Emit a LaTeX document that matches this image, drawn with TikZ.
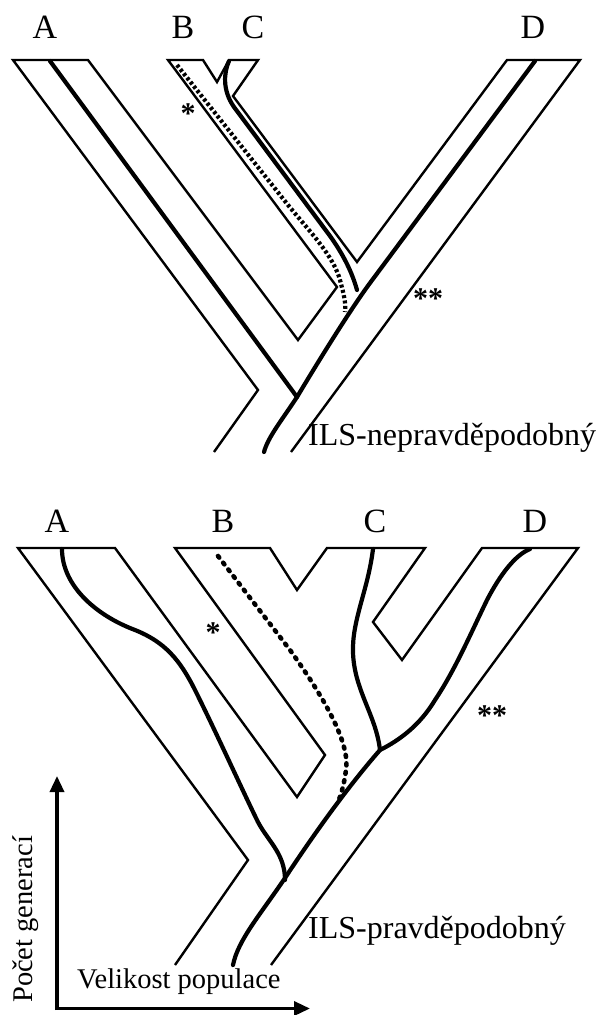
\documentclass[tikz,border=0pt]{standalone}
\usepackage{fontspec}
\setmainfont{Liberation Serif}
\usetikzlibrary{arrows.meta}
\begin{document}
\begin{tikzpicture}[x=1pt,y=-1pt,
  tube/.style={line width=2.4pt, line join=miter},
  lin/.style={line width=4.2pt, line cap=round},
  dashlin/.style={line width=4.2pt, dash pattern=on 3pt off 2.4pt},
  dotlin/.style={line width=4.6pt, line cap=round, dash pattern=on 2pt off 6.5pt},
  lab/.style={font=\fontsize{34}{34}\selectfont, anchor=base, inner sep=0},
  ils/.style={font=\fontsize{32}{32}\selectfont, anchor=base west, inner sep=0},
  axlab/.style={font=\fontsize{28.5}{28.5}\selectfont, inner sep=0},
  astx/.style={font=\fontsize{30}{30}\selectfont\bfseries, inner sep=0, anchor=center},
  axis/.style={line width=3.4pt, -{Triangle[length=16pt,width=14pt]}}
]
\useasboundingbox (0,0) rectangle (600,1015);

% ---------------- top panel ----------------
\node[lab] (tA) at (45,38) {A};
\node[lab] (tB) at (183,38) {B};
\node[lab] (tC) at (253,38) {C};
\node[lab] (tD) at (533,38) {D};

\draw[tube] (214,452) -- (258,390) -- (13,60) -- (88,60) -- (298,340) -- (337,287)
  -- (168,60) -- (203,60) -- (217,82) -- (229,60) -- (258,60) -- (233,96)
  -- (357,262) -- (507,60) -- (580,60) -- (291,452);

\draw[lin] (50,61) -- (297,397);
\draw[lin] (535,61) -- (370,283) .. controls (350,310) and (318,362) .. (297,397)
  .. controls (282,420) and (268,437) .. (264,452);
\draw[lin] (229,61) .. controls (224,72) and (222,90) .. (234,107) -- (330,236)
  .. controls (343,254) and (352,272) .. (357,290);
\draw[dashlin] (177,65) -- (288,205) .. controls (310,232) and (333,255) .. (340,280)
  .. controls (344,295) and (346,303) .. (345,312);

\node[astx] (ts1) at (188,114) {*};
\node[astx] (ts2) at (428,299) {**};
\node[ils] (tils) at (308,445) {ILS-nepravděpodobný};

% ---------------- bottom panel ----------------
\node[lab] (bA) at (57,532) {A};
\node[lab] (bB) at (223,532) {B};
\node[lab] (bC) at (375,532) {C};
\node[lab] (bD) at (535,532) {D};

\draw[tube] (175,965) -- (248,860) -- (18,548) -- (115,548) -- (297,797) -- (325,755)
  -- (175,548) -- (270,548) -- (297,590) -- (327,548) -- (425,548) -- (373,622)
  -- (402,660) -- (482,548) -- (578,548) -- (271,965);

\draw[lin] (62,549) .. controls (62,585) and (95,615) .. (135,630)
  .. controls (165,642) and (180,660) .. (195,690)
  .. controls (215,730) and (240,785) .. (256,818)
  .. controls (266,840) and (285,852) .. (285,880);
\draw[lin] (530,549) .. controls (515,555) and (500,575) .. (487,600)
  .. controls (470,635) and (455,670) .. (435,700)
  .. controls (420,725) and (400,740) .. (380,750)
  .. controls (345,790) and (310,840) .. (285,878)
  .. controls (260,915) and (238,940) .. (233,965);
\draw[lin] (373,549) .. controls (368,590) and (352,620) .. (353,652)
  .. controls (354,690) and (376,715) .. (380,750);
\draw[dotlin] (218,556) -- (290,650) .. controls (328,703) and (350,745) .. (346,770)
  .. controls (344,785) and (341,795) .. (338,802);

\node[astx] (bs1) at (213,633) {*};
\node[astx] (bs2) at (492,716) {**};
\node[ils] (bils) at (308,938) {ILS-pravděpodobný};

% ---------------- axes ----------------
\coordinate (o) at (57,1008.5);
\coordinate (oy) at (57,1010.2);
\coordinate (yt) at (57,776);
\coordinate (xt) at (310,1008.5);
\draw[axis] (oy) -- (yt);
\draw[axis] (o) -- (xt);
\node[axlab, anchor=base west] (xl) at (77,988) {Velikost populace};
\node[axlab, anchor=base west, rotate=90] (yl) at (32.5,1003) {Počet generací};
\end{tikzpicture}
\end{document}
